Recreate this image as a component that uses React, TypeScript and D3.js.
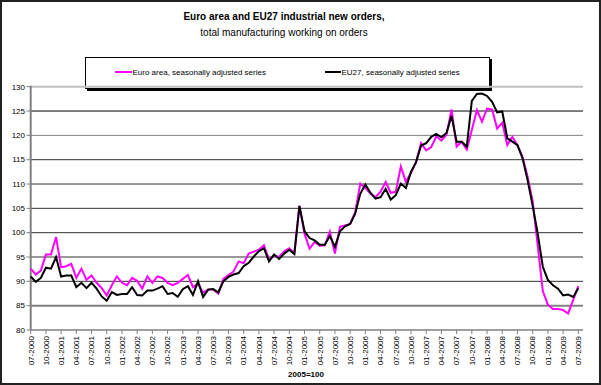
import * as d3 from "d3";

const width = 601;
const height = 385;
const font = "'Liberation Sans', Arial, sans-serif";

// monthly index, 07-2000 .. 07-2009 (109 months)
const euroArea = [
  92.6, 91.4, 92.2, 95.5, 95.5, 99.1, 92.9, 93.1, 93.6, 90.7, 92.6, 90.3,
  91.2, 89.7, 88.6, 87.1, 89.2, 91.0, 89.7, 89.2, 90.7, 90.1, 88.5, 91.0,
  89.7, 91.0, 90.7, 89.7, 89.2, 89.7, 90.5, 91.3, 88.8, 89.5, 87.7, 88.3,
  88.3, 87.5, 90.5, 91.3, 92.0, 94.1, 93.7, 95.7, 96.1, 96.5, 97.4, 94.5,
  95.3, 95.0, 96.2, 96.8, 95.8, 105.5, 99.8, 96.7, 98.1, 97.3, 97.4, 100.2,
  95.7, 101.2, 101.5, 101.8, 104.2, 110.1, 109.2, 108.0, 107.3, 108.4, 110.4, 108.2,
  108.4, 113.6, 110.4, 112.3, 114.5, 118.4, 116.9, 117.6, 119.8, 118.9, 120.1, 125.3,
  117.7, 118.7, 117.1, 121.1, 125.2, 122.8, 125.5, 125.3, 121.4, 122.6, 118.0, 119.7,
  118.0, 115.6, 111.5, 106.5, 97.3, 88.0, 85.2, 84.3, 84.3, 84.1, 83.4, 86.2,
  89.0,
];

const eu27 = [
  91.0, 89.9, 90.7, 92.8, 92.6, 95.0, 91.0, 91.2, 91.2, 88.8, 89.7, 88.6,
  89.7, 88.5, 86.9, 86.0, 87.8, 87.2, 87.4, 87.4, 88.8, 87.2, 87.1, 88.1,
  88.1, 88.5, 89.0, 87.4, 87.6, 86.8, 88.4, 89.0, 87.2, 90.0, 86.8, 88.3,
  88.4, 87.7, 90.0, 90.9, 91.4, 91.7, 93.1, 93.8, 95.1, 96.2, 96.8, 94.1,
  95.5, 94.6, 95.7, 96.5, 95.6, 105.5, 100.3, 98.9, 98.4, 97.5, 97.5, 99.3,
  97.1, 100.3, 101.3, 101.8, 103.9, 108.0, 109.9, 108.2, 107.0, 107.3, 109.0, 106.8,
  107.7, 110.1, 109.2, 112.5, 114.5, 117.9, 118.4, 119.7, 120.3, 119.6, 120.5, 124.0,
  118.7, 118.7, 117.7, 127.1, 128.5, 128.6, 128.1, 126.9, 124.7, 124.9, 119.4, 118.7,
  118.0, 115.3, 110.8, 105.5, 99.8, 93.0, 90.3, 89.2, 88.5, 87.1, 87.3, 86.8,
  88.6,
];

// one label every third month
const tickLabels = [
  "07-2000", "10-2000", "01-2001", "04-2001", "07-2001", "10-2001", "01-2002",
  "04-2002", "07-2002", "10-2002", "01-2003", "04-2003", "07-2003", "10-2003",
  "01-2004", "04-2004", "07-2004", "10-2004", "01-2005", "04-2005", "07-2005",
  "10-2005", "01-2006", "04-2006", "07-2006", "10-2006", "01-2007", "04-2007",
  "07-2007", "10-2007", "01-2008", "04-2008", "07-2008", "10-2008", "01-2009",
  "04-2009", "07-2009",
];

const yTicks = [80, 85, 90, 95, 100, 105, 110, 115, 120, 125, 130];

// Excel rendered the gridlines unevenly, keep that look
const gridStyle = (v: number) => {
  if (v === 130) return { stroke: "#c0c0c0", w: 2 };
  if (v === 120) return { stroke: "#808080", w: 1 };
  if (v === 85) return { stroke: "#808080", w: 2 };
  if (v === 125) return { stroke: "#000", w: 1 };
  return { stroke: "#333", w: 1 };
};

const plot = { left: 30.7, right: 578.3, gridRight: 583, top: 86.7, bottom: 330 };

export default function App() {
  const x = d3.scaleLinear().domain([0, euroArea.length - 1]).range([plot.left, plot.right]);
  const y = d3.scaleLinear().domain([80, 130]).range([plot.bottom, plot.top]);

  const line = d3
    .line<number>()
    .x((_, i) => x(i))
    .y((d) => y(d));

  return (
    <svg
      width={width}
      height={height}
      style={{ position: "absolute", left: 0, top: 0, background: "#fff" }}
      fontFamily={font}
    >
      <rect x={1} y={1} width={width - 2} height={height - 2} fill="#fff" stroke="#222" strokeWidth={2} />

      {/* title */}
      <text x={284} y={20} textAnchor="middle" fontSize={10} fontWeight="bold">
        Euro area and EU27 industrial new orders,
      </text>
      <text x={284} y={35.5} textAnchor="middle" fontSize={10}>
        total manufacturing working on orders
      </text>

      {/* legend */}
      <rect x={87} y={59} width={405} height={32} fill="#000" />
      <rect x={85.5} y={57.5} width={404} height={31} fill="#fff" stroke="#000" strokeWidth={1} />
      <line x1={115} x2={132} y1={72} y2={72} stroke="#ff00ff" strokeWidth={2} />
      <text x={132.5} y={75} fontSize={8}>
        Euro area, seasonally adjusted series
      </text>
      <line x1={325} x2={341} y1={72} y2={72} stroke="#000" strokeWidth={2} />
      <text x={341.5} y={75} fontSize={8}>
        EU27,  seasonally adjusted series
      </text>

      {/* gridlines and y axis */}
      {yTicks.map((v) => {
        const s = gridStyle(v);
        return (
          <g key={v}>
            {v > 80 && (
              <line
                x1={plot.left}
                x2={plot.gridRight}
                y1={y(v)}
                y2={y(v)}
                stroke={s.stroke}
                strokeWidth={s.w}
              />
            )}
            <line x1={26.5} x2={plot.left} y1={y(v)} y2={y(v)} stroke="#808080" />
            <text x={25} y={y(v)} dy="0.35em" textAnchor="end" fontSize={8}>
              {v}
            </text>
          </g>
        );
      })}
      <line x1={plot.left} x2={plot.left} y1={plot.top - 1} y2={plot.bottom} stroke="#808080" strokeWidth={2} />
      <line x1={plot.left} x2={plot.gridRight} y1={plot.bottom} y2={plot.bottom} stroke="#808080" strokeWidth={1.5} />

      {/* x axis */}
      {tickLabels.map((t, k) => {
        const px = x(k * 3);
        return (
          <g key={t}>
            <line x1={px} x2={px} y1={plot.bottom} y2={plot.bottom + 4} stroke="#808080" />
            <text
              transform={`translate(${px},${plot.bottom + 6}) rotate(-90)`}
              dy="0.35em"
              textAnchor="end"
              fontSize={8}
            >
              {t}
            </text>
          </g>
        );
      })}
      <text x={306} y={377} textAnchor="middle" fontSize={8} fontWeight="bold">
        2005=100
      </text>

      {/* series */}
      <path d={line(euroArea) ?? ""} fill="none" stroke="#ff00ff" strokeWidth={2} />
      <path d={line(eu27) ?? ""} fill="none" stroke="#000" strokeWidth={2} />
    </svg>
  );
}
